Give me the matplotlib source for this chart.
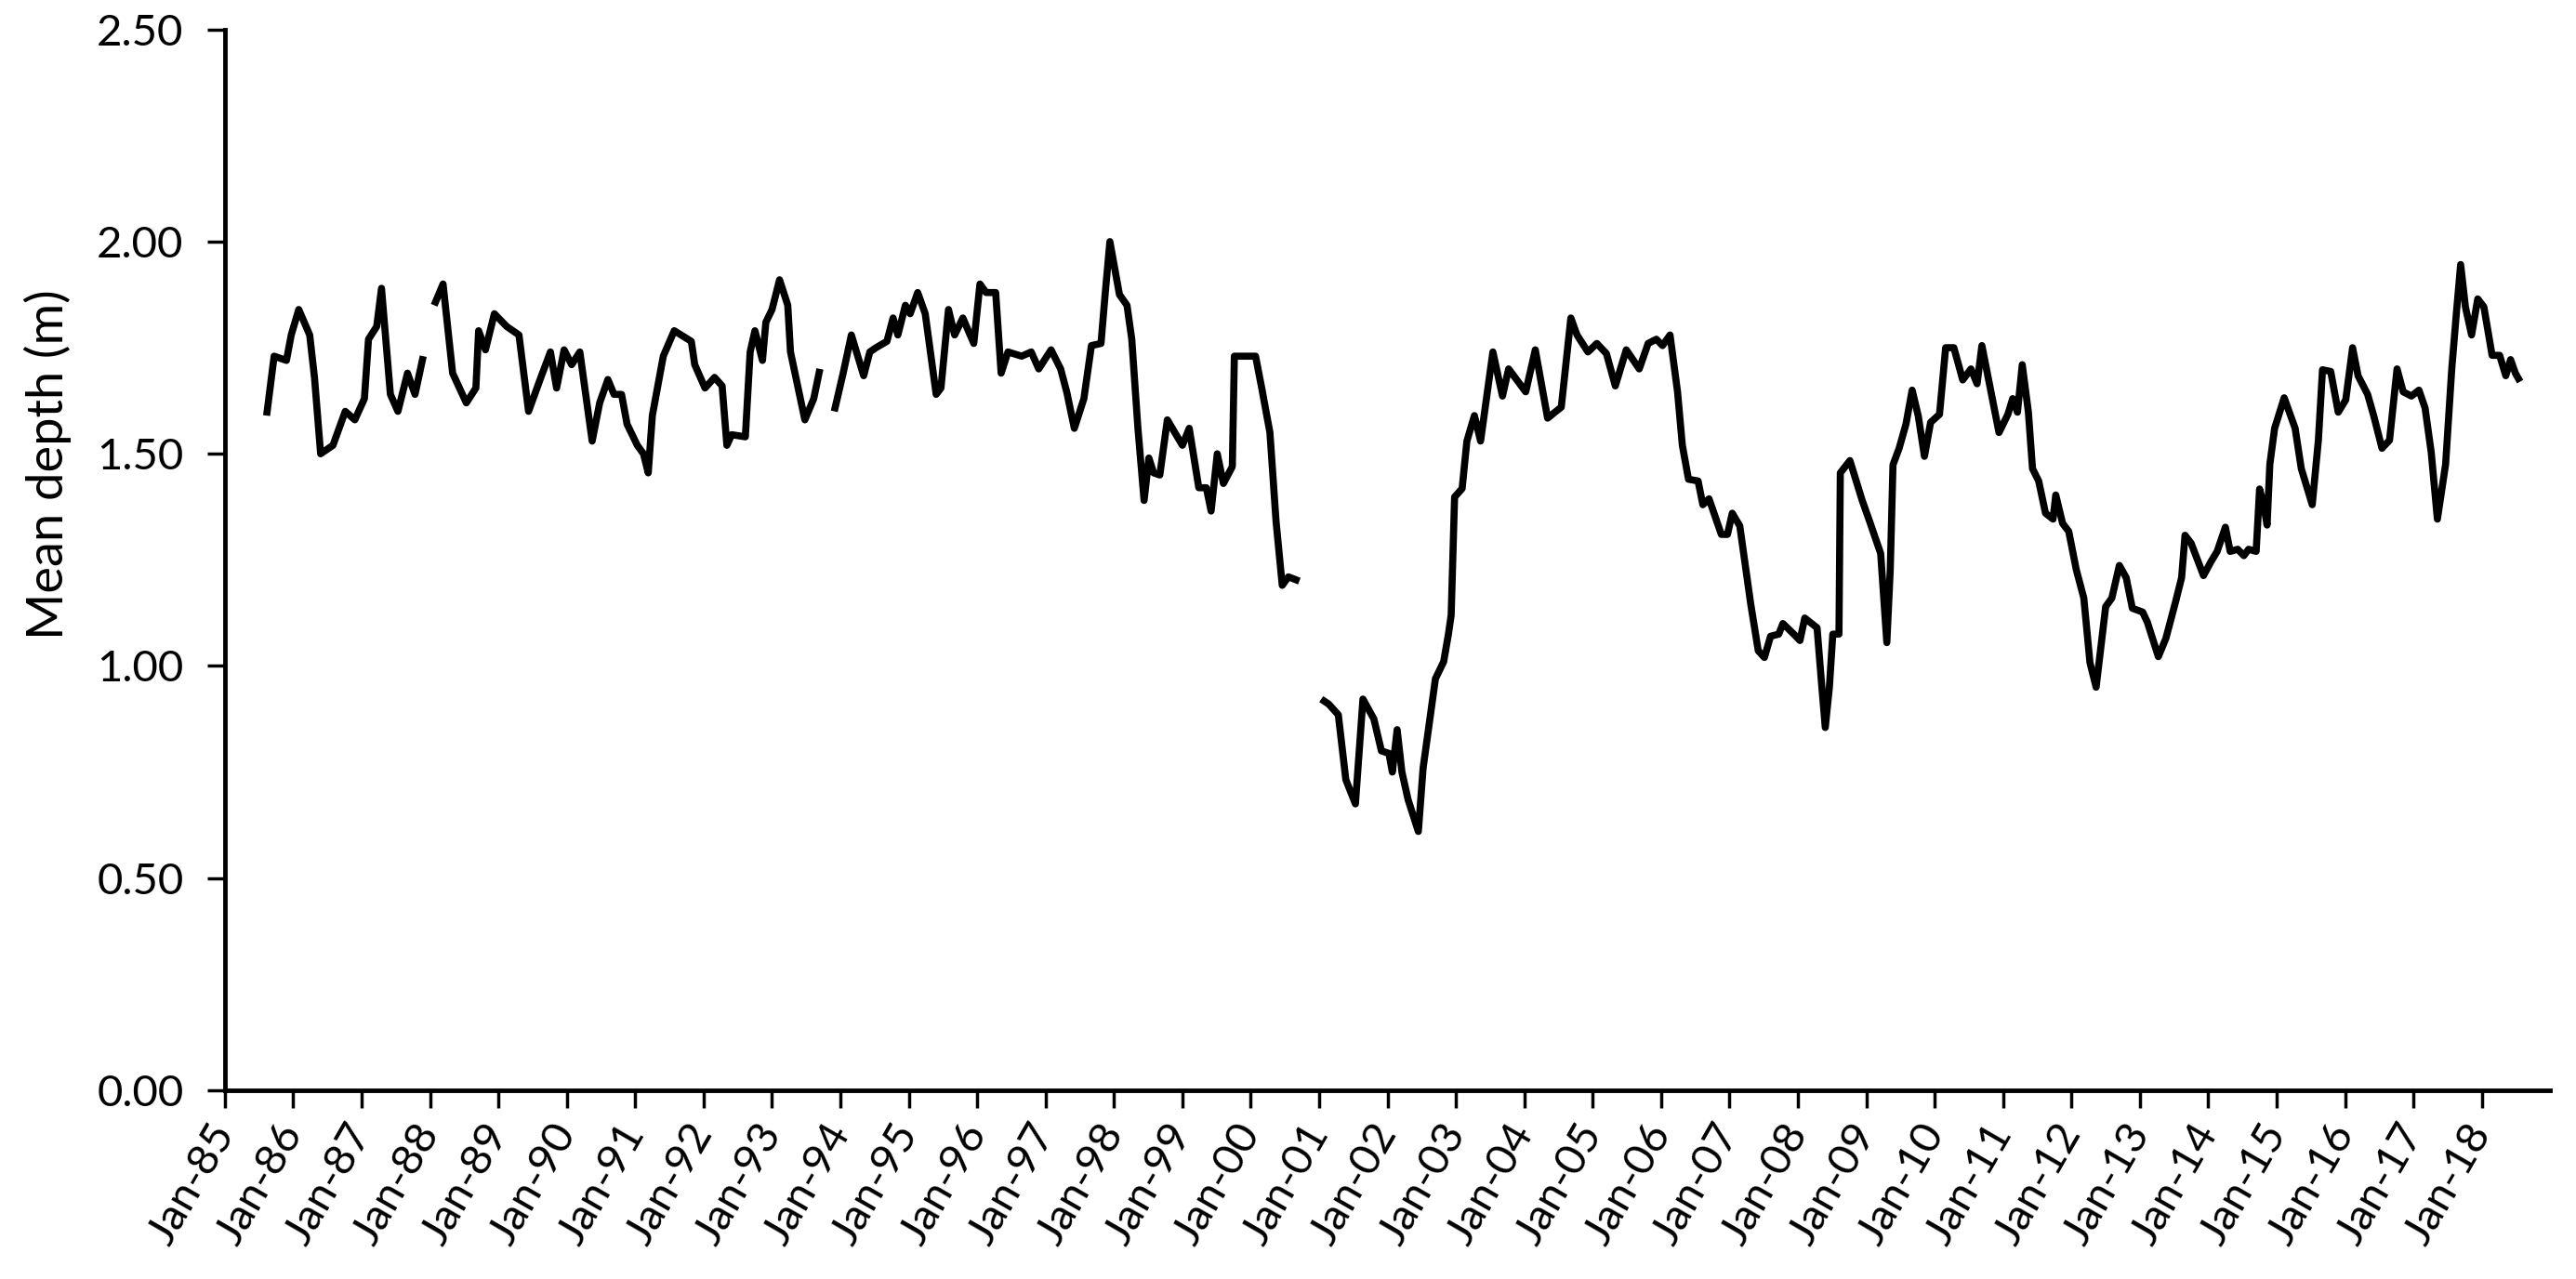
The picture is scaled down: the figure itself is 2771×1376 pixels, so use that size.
import numpy as np
import matplotlib.pyplot as plt

# decimal year of each vertex, NaN marks a gap in the record
years = [
    1985.61, 1985.72, 1985.90, 1985.97, 1986.08, 1986.24, 1986.31, 1986.40, 1986.58, 1986.76,
    1986.90, 1987.04, 1987.10, 1987.22, 1987.29, 1987.42, 1987.53, 1987.67, 1987.78, 1987.90,
    np.nan,
    1988.06, 1988.19, 1988.33, 1988.53, 1988.67, 1988.71, 1988.81, 1988.94, 1989.12, 1989.30,
    1989.44, 1989.62, 1989.76, 1989.85, 1989.96, 1990.07, 1990.19, 1990.37, 1990.48, 1990.60,
    1990.69, 1990.80, 1990.88, 1991.03, 1991.12, 1991.19, 1991.25, 1991.41, 1991.57, 1991.82,
    1991.87, 1992.02, 1992.16, 1992.27, 1992.34, 1992.41, 1992.61, 1992.68, 1992.75, 1992.86,
    1992.91, 1993.00, 1993.11, 1993.23, 1993.27, 1993.48, 1993.61, 1993.70,
    np.nan,
    1993.91, 1994.04, 1994.16, 1994.34, 1994.43, 1994.52, 1994.68, 1994.77, 1994.84, 1994.95,
    1995.02, 1995.13, 1995.24, 1995.40, 1995.47, 1995.58, 1995.67, 1995.79, 1995.95, 1996.04,
    1996.13, 1996.27, 1996.35, 1996.45, 1996.65, 1996.79, 1996.90, 1997.08, 1997.22, 1997.31,
    1997.42, 1997.56, 1997.67, 1997.81, 1997.87, 1997.94, 1998.08, 1998.19, 1998.26, 1998.35,
    1998.44, 1998.51, 1998.58, 1998.67, 1998.78, 1999.00, 1999.10, 1999.24, 1999.35, 1999.42,
    1999.51, 1999.60, 1999.73, 1999.76, 1999.82, 2000.07, 2000.16, 2000.28, 2000.37, 2000.46,
    2000.55, 2000.71,
    np.nan,
    2001.03, 2001.14, 2001.28, 2001.39, 2001.53, 2001.64, 2001.80, 2001.91, 2002.02, 2002.07,
    2002.14, 2002.21, 2002.30, 2002.45, 2002.52, 2002.61, 2002.70, 2002.82, 2002.89, 2002.93,
    2002.98, 2003.09, 2003.16, 2003.27, 2003.36, 2003.54, 2003.68, 2003.77, 2004.02, 2004.16,
    2004.34, 2004.54, 2004.68, 2004.77, 2004.93, 2005.06, 2005.20, 2005.33, 2005.49, 2005.68,
    2005.81, 2005.93, 2006.02, 2006.13, 2006.24, 2006.31, 2006.40, 2006.54, 2006.61, 2006.70,
    2006.88, 2006.97, 2007.04, 2007.15, 2007.31, 2007.42, 2007.51, 2007.60, 2007.72, 2007.78,
    2007.94, 2008.03, 2008.10, 2008.28, 2008.35, 2008.40, 2008.46, 2008.51, 2008.60, 2008.62,
    2008.76, 2008.94, 2009.05, 2009.21, 2009.30, 2009.35, 2009.39, 2009.48, 2009.58, 2009.67,
    2009.76, 2009.85, 2009.94, 2010.07, 2010.16, 2010.28, 2010.41, 2010.53, 2010.62, 2010.69,
    2010.80, 2010.94, 2011.07, 2011.14, 2011.21, 2011.28, 2011.37, 2011.43, 2011.52, 2011.62,
    2011.73, 2011.77, 2011.87, 2011.96, 2012.07, 2012.18, 2012.27, 2012.36, 2012.50, 2012.59,
    2012.70, 2012.80, 2012.89, 2013.04, 2013.11, 2013.27, 2013.38, 2013.52, 2013.61, 2013.66,
    2013.75, 2013.93, 2014.04, 2014.13, 2014.25, 2014.32, 2014.43, 2014.52, 2014.59, 2014.70,
    2014.75, 2014.81, 2014.86, 2014.90, 2014.97, 2015.11, 2015.27, 2015.36, 2015.52, 2015.61,
    2015.67, 2015.79, 2015.90, 2016.01, 2016.11, 2016.19, 2016.33, 2016.42, 2016.54, 2016.65,
    2016.76, 2016.85, 2016.97, 2017.08, 2017.17, 2017.26, 2017.35, 2017.47, 2017.56, 2017.63,
    2017.69, 2017.76, 2017.85, 2017.94, 2018.03, 2018.15, 2018.26, 2018.35, 2018.42, 2018.49,
    2018.56,
]

# mean depth (m) at those vertices
depth = [
    1.59, 1.73, 1.72, 1.78, 1.84, 1.78, 1.68, 1.50, 1.52, 1.60,
    1.58, 1.63, 1.77, 1.80, 1.89, 1.64, 1.60, 1.69, 1.64, 1.73,
    np.nan,
    1.85, 1.90, 1.69, 1.62, 1.655, 1.79, 1.745, 1.83, 1.80, 1.78,
    1.60, 1.68, 1.74, 1.655, 1.745, 1.71, 1.74, 1.53, 1.62, 1.675,
    1.64, 1.64, 1.57, 1.52, 1.50, 1.455, 1.59, 1.73, 1.79, 1.765,
    1.71, 1.655, 1.68, 1.66, 1.52, 1.545, 1.54, 1.74, 1.79, 1.72,
    1.81, 1.84, 1.91, 1.85, 1.74, 1.58, 1.63, 1.70,
    np.nan,
    1.60, 1.69, 1.78, 1.684, 1.74, 1.75, 1.765, 1.82, 1.78, 1.85,
    1.83, 1.88, 1.83, 1.64, 1.655, 1.84, 1.78, 1.82, 1.76, 1.90,
    1.88, 1.88, 1.69, 1.74, 1.73, 1.74, 1.70, 1.745, 1.70, 1.645,
    1.56, 1.63, 1.755, 1.76, 1.875, 2.00, 1.875, 1.85, 1.77, 1.56,
    1.39, 1.49, 1.455, 1.45, 1.58, 1.52, 1.56, 1.42, 1.42, 1.365,
    1.50, 1.43, 1.47, 1.73, 1.73, 1.73, 1.655, 1.55, 1.34, 1.19,
    1.21, 1.20,
    np.nan,
    0.922, 0.91, 0.885, 0.732, 0.675, 0.922, 0.875, 0.80, 0.794, 0.75,
    0.85, 0.75, 0.685, 0.61, 0.76, 0.865, 0.97, 1.01, 1.075, 1.12,
    1.398, 1.418, 1.53, 1.59, 1.53, 1.74, 1.636, 1.70, 1.646, 1.745,
    1.584, 1.61, 1.82, 1.78, 1.74, 1.76, 1.736, 1.66, 1.745, 1.70,
    1.76, 1.77, 1.755, 1.78, 1.646, 1.52, 1.44, 1.436, 1.38, 1.394,
    1.31, 1.31, 1.36, 1.33, 1.146, 1.036, 1.02, 1.07, 1.075, 1.10,
    1.075, 1.06, 1.113, 1.09, 0.95, 0.855, 0.95, 1.075, 1.075, 1.455,
    1.484, 1.39, 1.34, 1.265, 1.055, 1.227, 1.474, 1.513, 1.57, 1.65,
    1.589, 1.494, 1.574, 1.593, 1.75, 1.75, 1.674, 1.70, 1.665, 1.755,
    1.665, 1.55, 1.593, 1.63, 1.598, 1.71, 1.598, 1.465, 1.436, 1.36,
    1.346, 1.403, 1.336, 1.317, 1.227, 1.16, 1.008, 0.95, 1.14, 1.16,
    1.237, 1.208, 1.136, 1.127, 1.103, 1.022, 1.065, 1.15, 1.208, 1.308,
    1.289, 1.213, 1.246, 1.27, 1.327, 1.27, 1.275, 1.26, 1.275, 1.27,
    1.417, 1.38, 1.332, 1.475, 1.56, 1.632, 1.56, 1.465, 1.38, 1.532,
    1.698, 1.694, 1.598, 1.627, 1.75, 1.684, 1.64, 1.589, 1.513, 1.532,
    1.70, 1.646, 1.636, 1.65, 1.608, 1.503, 1.346, 1.475, 1.70, 1.836,
    1.946, 1.846, 1.78, 1.865, 1.846, 1.732, 1.732, 1.684, 1.722, 1.69,
    1.67,
]

tick_years = list(range(1985, 2019))
tick_labels = ['Jan-%02d' % (y % 100) for y in tick_years]
y_ticks = [0.0, 0.5, 1.0, 1.5, 2.0, 2.5]

plt.rcParams['font.family'] = ['Lato', 'DejaVu Sans']

fig = plt.figure(figsize=(27.71, 13.76), dpi=100)
ax = fig.add_axes([0.0873, 0.1475, 0.9027, 0.8295])

ax.plot(years, depth, color='black', lw=5.5, solid_joinstyle='round', solid_capstyle='butt')

ax.set_xlim(1985, 2019)
ax.set_ylim(0, 2.5)
ax.set_xticks(tick_years)
ax.set_xticklabels(tick_labels, rotation=60, ha='right', va='center', rotation_mode='anchor')
ax.set_yticks(y_ticks)
ax.set_yticklabels(['%.2f' % v for v in y_ticks])
ax.set_ylabel('Mean depth (m)', fontsize=39)
ax.yaxis.set_label_coords(-0.066, 0.59)

for side in ['top', 'right']:
    ax.spines[side].set_visible(False)
for side in ['left', 'bottom']:
    ax.spines[side].set_linewidth(3.5)
ax.tick_params(axis='both', direction='out', length=14, width=2.5, labelsize=34)
ax.tick_params(axis='y', pad=18)
ax.tick_params(axis='x', pad=14)

fig.savefig('out.png', dpi=100)
